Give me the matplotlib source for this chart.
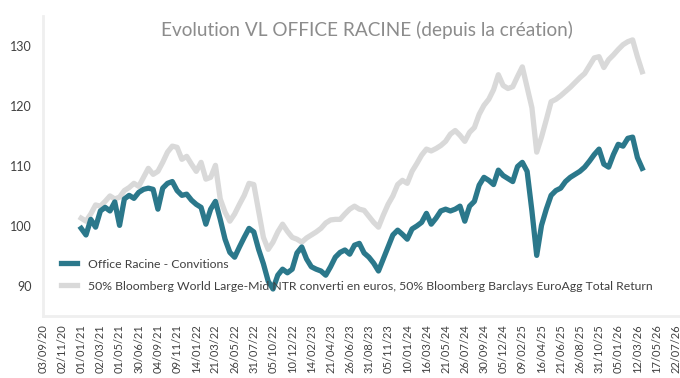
import matplotlib.pyplot as plt
import numpy as np

plt.rcParams['font.family'] = ['Lato', 'DejaVu Sans']

# Category axis labels (one every ~2 months)
tick_labels = ["03/09/20", "02/11/20", "01/01/21", "02/03/21", "01/05/21", "30/06/21",
               "04/09/21", "09/11/21", "14/01/22", "21/03/22", "26/05/22", "31/07/22",
               "05/10/22", "10/12/22", "14/02/23", "21/04/23", "26/06/23", "31/08/23",
               "05/11/23", "10/01/24", "16/03/24", "21/05/24", "26/07/24", "30/09/24",
               "05/12/24", "09/02/25", "16/04/25", "21/06/25", "26/08/25", "31/10/25",
               "05/01/26", "12/03/26", "17/05/26", "22/07/26"]

# Base 100 values, 4 observations per label interval, starting 01/01/21
office_racine = [99.6, 98.5, 101.1, 99.8, 102.5, 103.1, 102.5, 104.0, 100.1, 104.5,
                 105.1, 104.6, 105.6, 106.1, 106.3, 106.1, 102.8, 106.3, 107.1, 107.4,
                 105.9, 105.1, 105.3, 104.3, 103.6, 103.1, 100.3, 102.8, 104.1, 101.1,
                 97.8, 95.6, 94.8, 96.5, 98.1, 99.6, 99.0, 96.1, 93.7, 90.8,
                 89.5, 91.8, 92.8, 92.2, 92.8, 95.5, 96.5, 94.5, 93.2, 92.8,
                 92.5, 91.8, 93.2, 94.8, 95.6, 96.0, 95.3, 96.8, 97.1, 95.5,
                 94.8, 93.8, 92.5, 94.5, 96.5, 98.5, 99.3, 98.6, 97.8, 99.5,
                 100.0, 100.6, 102.1, 100.3, 101.3, 102.5, 102.8, 102.5, 102.8, 103.3,
                 100.8, 103.3, 104.1, 106.8, 108.1, 107.6, 106.9, 109.3, 108.4, 107.9,
                 107.4, 109.9, 110.6, 109.1, 102.5, 95.1, 100.1, 102.8, 105.1, 105.9,
                 106.3, 107.4, 108.1, 108.6, 109.1, 109.8, 110.8, 111.9, 112.8, 110.3,
                 109.8, 111.9, 113.6, 113.3, 114.6, 114.8, 111.4, 109.6]

benchmark = [101.3, 100.8, 102.0, 103.5, 103.3, 104.1, 105.0, 104.5, 104.8, 105.9,
             106.4, 107.1, 106.6, 108.1, 109.6, 108.6, 109.1, 110.6, 112.3, 113.3,
             113.1, 111.1, 111.6, 110.3, 109.1, 110.6, 107.8, 108.1, 110.1, 104.5,
             102.3, 100.8, 102.0, 103.6, 105.1, 107.1, 106.9, 102.5, 98.1, 96.1,
             97.3, 99.0, 100.3, 99.1, 98.1, 97.8, 97.3, 98.0, 98.5, 99.0,
             99.6, 100.5, 101.0, 101.1, 101.1, 102.0, 102.8, 103.3, 102.8, 102.6,
             101.6, 100.6, 99.8, 101.8, 103.6, 105.0, 106.9, 107.6, 107.1, 109.1,
             110.4, 111.8, 112.8, 112.5, 112.9, 113.4, 114.1, 115.3, 115.9, 115.1,
             114.1, 115.6, 116.4, 118.6, 120.1, 121.1, 122.7, 125.2, 123.4, 122.9,
             123.2, 124.9, 126.5, 123.1, 119.7, 112.3, 114.8, 117.7, 120.7, 121.1,
             121.7, 122.4, 123.1, 123.9, 124.7, 125.4, 126.7, 128.0, 128.2, 126.4,
             127.7, 128.5, 129.4, 130.2, 130.7, 131.0, 128.2, 125.7]

first_tick = 2   # data starts on 01/01/21
per_tick = 4

x = first_tick + np.arange(len(office_racine)) / per_tick

fig, ax = plt.subplots(figsize=(6.8, 3.78), dpi=100)
fig.subplots_adjust(left=0.063, right=0.998, bottom=0.164, top=0.958)

l2, = ax.plot(x, benchmark, color='#d9d9d9', lw=3.8,
              label='50% Bloomberg World Large-Mid NTR converti en euros, '
                    '50% Bloomberg Barclays EuroAgg Total Return')
l1, = ax.plot(x, office_racine, color='#2b788b', lw=3.8,
              label='Office Racine - Convitions')

ax.set_xlim(0, 33.15)
ax.set_ylim(85, 135)
ax.set_yticks([90, 100, 110, 120, 130])
ax.set_xticks(np.arange(len(tick_labels)))
ax.set_xticklabels(tick_labels, rotation=90)
ax.tick_params(axis='both', length=0, colors='#404040')
ax.tick_params(axis='x', labelsize=8, pad=6)
ax.tick_params(axis='y', labelsize=9, pad=8)

for s in ['top', 'right']:
    ax.spines[s].set_visible(False)
for s in ['left', 'bottom']:
    ax.spines[s].set_color('#efefef')
    ax.spines[s].set_linewidth(2)

fig.text(0.54, 0.92, 'Evolution VL OFFICE RACINE (depuis la création)',
         ha='center', va='center', fontsize=13.7, color='#8c8c8c')

ax.legend(handles=[l1, l2], loc='upper left', bbox_to_anchor=(0.012, 0.228),
          frameon=False, fontsize=8.8, handlelength=1.3, handletextpad=0.9,
          labelspacing=0.9, labelcolor='#404040')

fig.savefig('out.png', dpi=100)
